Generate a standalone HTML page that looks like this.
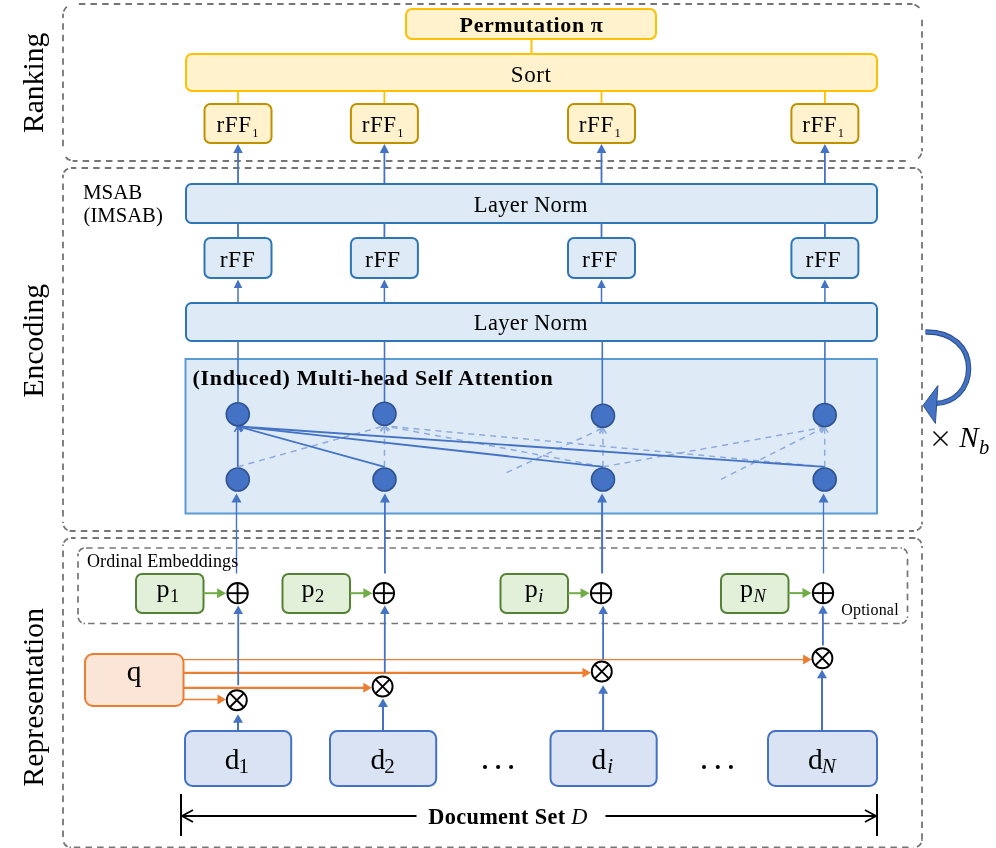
<!DOCTYPE html>
<html><head><meta charset="utf-8"><style>
html,body{margin:0;padding:0;background:#fff;}
svg{display:block;will-change:transform;}
.s{font-family:"Liberation Serif",serif;fill:#000;}
.sb{font-family:"Liberation Serif",serif;font-weight:bold;fill:#000;}
.it{font-family:"Liberation Serif",serif;font-style:italic;fill:#000;}
</style></head><body>
<svg width="996" height="848" viewBox="0 0 996 848">
<line x1="74" y1="4" x2="911" y2="4" fill="none" stroke="#757575" stroke-width="1.8" stroke-dasharray="6.5 5.166" stroke-dashoffset="6.86"/>
<line x1="74" y1="161" x2="911" y2="161" fill="none" stroke="#757575" stroke-width="1.8" stroke-dasharray="6.5 5.166" stroke-dashoffset="3.04"/>
<line x1="63" y1="15" x2="63" y2="150" fill="none" stroke="#757575" stroke-width="1.8" stroke-dasharray="6.5 5.166" stroke-dashoffset="3.46"/>
<line x1="922" y1="15" x2="922" y2="150" fill="none" stroke="#757575" stroke-width="1.8" stroke-dasharray="6.5 5.166" stroke-dashoffset="7.04"/>
<path d="M63,15 A11,11 0 0 1 74,4" fill="none" stroke="#757575" stroke-width="1.8" stroke-dasharray="1.5 2 6 20" stroke-dashoffset="0"/>
<path d="M911,4 A11,11 0 0 1 922,15" fill="none" stroke="#757575" stroke-width="1.8" stroke-dasharray="1.5 2 6 20" stroke-dashoffset="0"/>
<path d="M922,150 A11,11 0 0 1 911,161" fill="none" stroke="#757575" stroke-width="1.8" stroke-dasharray="1.5 2 6 20" stroke-dashoffset="0"/>
<path d="M74,161 A11,11 0 0 1 63,150" fill="none" stroke="#757575" stroke-width="1.8" stroke-dasharray="1.5 2 6 20" stroke-dashoffset="0"/>
<line x1="71" y1="168" x2="914" y2="168" fill="none" stroke="#757575" stroke-width="1.8" stroke-dasharray="6.5 5.166" stroke-dashoffset="1.18"/>
<line x1="71" y1="531" x2="914" y2="531" fill="none" stroke="#757575" stroke-width="1.8" stroke-dasharray="6.5 5.166" stroke-dashoffset="1.87"/>
<line x1="63" y1="176" x2="63" y2="523" fill="none" stroke="#757575" stroke-width="1.8" stroke-dasharray="6.5 5.166" stroke-dashoffset="4.23"/>
<line x1="922" y1="176" x2="922" y2="523" fill="none" stroke="#757575" stroke-width="1.8" stroke-dasharray="6.5 5.166" stroke-dashoffset="4.11"/>
<path d="M63,176 A8,8 0 0 1 71,168" fill="none" stroke="#757575" stroke-width="1.8" stroke-dasharray="1.5 2 6 20" stroke-dashoffset="0"/>
<path d="M914,168 A8,8 0 0 1 922,176" fill="none" stroke="#757575" stroke-width="1.8" stroke-dasharray="1.5 2 6 20" stroke-dashoffset="0"/>
<path d="M922,523 A8,8 0 0 1 914,531" fill="none" stroke="#757575" stroke-width="1.8" stroke-dasharray="1.5 2 6 20" stroke-dashoffset="0"/>
<path d="M71,531 A8,8 0 0 1 63,523" fill="none" stroke="#757575" stroke-width="1.8" stroke-dasharray="1.5 2 6 20" stroke-dashoffset="0"/>
<line x1="71" y1="538" x2="914" y2="538" fill="none" stroke="#757575" stroke-width="1.8" stroke-dasharray="6.5 5.166" stroke-dashoffset="1.87"/>
<line x1="71" y1="847.5" x2="914" y2="847.5" fill="none" stroke="#757575" stroke-width="1.8" stroke-dasharray="6.5 5.166" stroke-dashoffset="8.87"/>
<line x1="63" y1="546" x2="63" y2="839.5" fill="none" stroke="#757575" stroke-width="1.8" stroke-dasharray="6.5 5.166" stroke-dashoffset="7.12"/>
<line x1="922" y1="546" x2="922" y2="839.5" fill="none" stroke="#757575" stroke-width="1.8" stroke-dasharray="6.5 5.166" stroke-dashoffset="4.52"/>
<path d="M63,546 A8,8 0 0 1 71,538" fill="none" stroke="#757575" stroke-width="1.8" stroke-dasharray="1.5 2 6 20" stroke-dashoffset="0"/>
<path d="M914,538 A8,8 0 0 1 922,546" fill="none" stroke="#757575" stroke-width="1.8" stroke-dasharray="1.5 2 6 20" stroke-dashoffset="0"/>
<path d="M922,839.5 A8,8 0 0 1 914,847.5" fill="none" stroke="#757575" stroke-width="1.8" stroke-dasharray="1.5 2 6 20" stroke-dashoffset="0"/>
<path d="M71,847.5 A8,8 0 0 1 63,839.5" fill="none" stroke="#757575" stroke-width="1.8" stroke-dasharray="1.5 2 6 20" stroke-dashoffset="0"/>
<line x1="85" y1="548" x2="900.5" y2="548" fill="none" stroke="#757575" stroke-width="1.7" stroke-dasharray="6.5 5.166" stroke-dashoffset="10.60"/>
<line x1="85" y1="623.5" x2="900.5" y2="623.5" fill="none" stroke="#757575" stroke-width="1.7" stroke-dasharray="6.5 5.166" stroke-dashoffset="8.54"/>
<line x1="78" y1="555" x2="78" y2="616.5" fill="none" stroke="#757575" stroke-width="1.7" stroke-dasharray="6.5 5.166" stroke-dashoffset="5.30"/>
<line x1="907.5" y1="555" x2="907.5" y2="616.5" fill="none" stroke="#757575" stroke-width="1.7" stroke-dasharray="6.5 5.166" stroke-dashoffset="7.85"/>
<path d="M78,555 A7,7 0 0 1 85,548" fill="none" stroke="#757575" stroke-width="1.7" stroke-dasharray="1.5 2 6 20" stroke-dashoffset="0"/>
<path d="M900.5,548 A7,7 0 0 1 907.5,555" fill="none" stroke="#757575" stroke-width="1.7" stroke-dasharray="1.5 2 6 20" stroke-dashoffset="0"/>
<path d="M907.5,616.5 A7,7 0 0 1 900.5,623.5" fill="none" stroke="#757575" stroke-width="1.7" stroke-dasharray="1.5 2 6 20" stroke-dashoffset="0"/>
<path d="M85,623.5 A7,7 0 0 1 78,616.5" fill="none" stroke="#757575" stroke-width="1.7" stroke-dasharray="1.5 2 6 20" stroke-dashoffset="0"/>
<rect x="406" y="9" width="250" height="30" rx="6" fill="#FFF2CC" stroke="#FFC000" stroke-width="2"/>
<line x1="531.5" y1="39" x2="531.5" y2="54" stroke="#FFC000" stroke-width="2"/>
<rect x="186" y="54" width="691" height="37" rx="6" fill="#FFF2CC" stroke="#FFC000" stroke-width="2"/>
<line x1="238" y1="91" x2="238" y2="104" stroke="#FFC000" stroke-width="1.8"/>
<rect x="204.5" y="104" width="67" height="39" rx="6" fill="#FFF2CC" stroke="#BF9000" stroke-width="2"/>
<line x1="238" y1="184" x2="238" y2="152" stroke="#4472C4" stroke-width="1.8"/>
<polygon points="238,144 233.25,153 242.75,153" fill="#4472C4"/>
<line x1="384.4" y1="91" x2="384.4" y2="104" stroke="#FFC000" stroke-width="1.8"/>
<rect x="350.9" y="104" width="67" height="39" rx="6" fill="#FFF2CC" stroke="#BF9000" stroke-width="2"/>
<line x1="384.4" y1="184" x2="384.4" y2="152" stroke="#4472C4" stroke-width="1.8"/>
<polygon points="384.4,144 379.65,153 389.15,153" fill="#4472C4"/>
<line x1="601.5" y1="91" x2="601.5" y2="104" stroke="#FFC000" stroke-width="1.8"/>
<rect x="568.0" y="104" width="67" height="39" rx="6" fill="#FFF2CC" stroke="#BF9000" stroke-width="2"/>
<line x1="601.5" y1="184" x2="601.5" y2="152" stroke="#4472C4" stroke-width="1.8"/>
<polygon points="601.5,144 596.75,153 606.25,153" fill="#4472C4"/>
<line x1="824.9" y1="91" x2="824.9" y2="104" stroke="#FFC000" stroke-width="1.8"/>
<rect x="791.4" y="104" width="67" height="39" rx="6" fill="#FFF2CC" stroke="#BF9000" stroke-width="2"/>
<line x1="824.9" y1="184" x2="824.9" y2="152" stroke="#4472C4" stroke-width="1.8"/>
<polygon points="824.9,144 820.15,153 829.65,153" fill="#4472C4"/>
<rect x="186" y="184" width="691" height="39" rx="5.5" fill="#DEEBF7" stroke="#2E75B6" stroke-width="2"/>
<rect x="186" y="303" width="691" height="38" rx="5.5" fill="#DEEBF7" stroke="#2E75B6" stroke-width="2"/>
<line x1="238" y1="223" x2="238" y2="238" stroke="#4472C4" stroke-width="1.8"/>
<rect x="204.5" y="238" width="67" height="40" rx="6" fill="#DEEBF7" stroke="#2E75B6" stroke-width="2"/>
<line x1="238" y1="303" x2="238" y2="287" stroke="#4472C4" stroke-width="1.5"/>
<polygon points="238,279.5 233.75,288.0 242.25,288.0" fill="#4472C4"/>
<line x1="384.4" y1="223" x2="384.4" y2="238" stroke="#4472C4" stroke-width="1.8"/>
<rect x="350.9" y="238" width="67" height="40" rx="6" fill="#DEEBF7" stroke="#2E75B6" stroke-width="2"/>
<line x1="384.4" y1="303" x2="384.4" y2="287" stroke="#4472C4" stroke-width="1.5"/>
<polygon points="384.4,279.5 380.15,288.0 388.65,288.0" fill="#4472C4"/>
<line x1="601.5" y1="223" x2="601.5" y2="238" stroke="#4472C4" stroke-width="1.8"/>
<rect x="568.0" y="238" width="67" height="40" rx="6" fill="#DEEBF7" stroke="#2E75B6" stroke-width="2"/>
<line x1="601.5" y1="303" x2="601.5" y2="287" stroke="#4472C4" stroke-width="1.5"/>
<polygon points="601.5,279.5 597.25,288.0 605.75,288.0" fill="#4472C4"/>
<line x1="824.9" y1="223" x2="824.9" y2="238" stroke="#4472C4" stroke-width="1.8"/>
<rect x="791.4" y="238" width="67" height="40" rx="6" fill="#DEEBF7" stroke="#2E75B6" stroke-width="2"/>
<line x1="824.9" y1="303" x2="824.9" y2="287" stroke="#4472C4" stroke-width="1.5"/>
<polygon points="824.9,279.5 820.65,288.0 829.15,288.0" fill="#4472C4"/>
<rect x="185.5" y="359" width="691.5" height="154.5" fill="#DEEBF7" stroke="#5B9BD5" stroke-width="2"/>
<line x1="238" y1="341" x2="238" y2="404" stroke="#4472C4" stroke-width="1.6"/>
<line x1="384.5" y1="341" x2="384.5" y2="404" stroke="#4472C4" stroke-width="1.6"/>
<line x1="602.3" y1="341" x2="602.3" y2="404" stroke="#4472C4" stroke-width="1.6"/>
<line x1="824.9" y1="341" x2="824.9" y2="404" stroke="#4472C4" stroke-width="1.6"/>
<line x1="237.8" y1="466.8" x2="384.5" y2="425.9" stroke="#8FAADC" stroke-width="1.5" stroke-dasharray="6 5"/>
<line x1="384.5" y1="466.8" x2="384.5" y2="425.9" stroke="#8FAADC" stroke-width="1.5" stroke-dasharray="6 5"/>
<line x1="603" y1="466.8" x2="384.5" y2="425.9" stroke="#8FAADC" stroke-width="1.5" stroke-dasharray="6 5"/>
<line x1="824.7" y1="466.8" x2="384.5" y2="425.9" stroke="#8FAADC" stroke-width="1.5" stroke-dasharray="6 5"/>
<line x1="506.6" y1="472.6" x2="603" y2="428.0" stroke="#8FAADC" stroke-width="1.5" stroke-dasharray="6 5"/>
<line x1="603" y1="466.8" x2="603" y2="428.0" stroke="#8FAADC" stroke-width="1.5" stroke-dasharray="6 5"/>
<line x1="721" y1="479.3" x2="824.7" y2="427.2" stroke="#8FAADC" stroke-width="1.5" stroke-dasharray="6 5"/>
<line x1="603" y1="466.8" x2="824.7" y2="427.2" stroke="#8FAADC" stroke-width="1.5" stroke-dasharray="6 5"/>
<line x1="824.7" y1="466.8" x2="824.7" y2="427.2" stroke="#8FAADC" stroke-width="1.5" stroke-dasharray="6 5"/>
<polyline points="378.27,424.06 384.5,425.9 380.12,430.70" fill="none" stroke="#8FAADC" stroke-width="1.5" stroke-linejoin="miter"/>
<polyline points="381.06,431.41 384.5,425.9 387.94,431.41" fill="none" stroke="#8FAADC" stroke-width="1.5" stroke-linejoin="miter"/>
<polyline points="389.28,430.30 384.5,425.9 390.55,423.53" fill="none" stroke="#8FAADC" stroke-width="1.5" stroke-linejoin="miter"/>
<polyline points="389.67,429.84 384.5,425.9 390.31,422.98" fill="none" stroke="#8FAADC" stroke-width="1.5" stroke-linejoin="miter"/>
<polyline points="596.55,427.19 603,428.0 599.44,433.44" fill="none" stroke="#8FAADC" stroke-width="1.5" stroke-linejoin="miter"/>
<polyline points="599.56,433.51 603,428.0 606.44,433.51" fill="none" stroke="#8FAADC" stroke-width="1.5" stroke-linejoin="miter"/>
<polyline points="818.23,426.60 824.7,427.2 821.32,432.75" fill="none" stroke="#8FAADC" stroke-width="1.5" stroke-linejoin="miter"/>
<polyline points="818.67,424.78 824.7,427.2 819.88,431.56" fill="none" stroke="#8FAADC" stroke-width="1.5" stroke-linejoin="miter"/>
<polyline points="821.26,432.71 824.7,427.2 828.14,432.71" fill="none" stroke="#8FAADC" stroke-width="1.5" stroke-linejoin="miter"/>
<line x1="237.8" y1="466.8" x2="237.8" y2="426.4" stroke="#4472C4" stroke-width="1.8"/>
<line x1="384.5" y1="466.8" x2="237.8" y2="426.4" stroke="#4472C4" stroke-width="1.8"/>
<line x1="603" y1="466.8" x2="237.8" y2="426.4" stroke="#4472C4" stroke-width="1.8"/>
<line x1="824.7" y1="466.8" x2="237.8" y2="426.4" stroke="#4472C4" stroke-width="1.8"/>
<polyline points="234.36,431.91 237.8,426.4 241.24,431.91" fill="none" stroke="#4472C4" stroke-width="1.6" stroke-linejoin="miter"/>
<polyline points="242.20,431.18 237.8,426.4 244.03,424.54" fill="none" stroke="#4472C4" stroke-width="1.6" stroke-linejoin="miter"/>
<polyline points="242.90,430.43 237.8,426.4 243.66,423.58" fill="none" stroke="#4472C4" stroke-width="1.6" stroke-linejoin="miter"/>
<polyline points="243.06,430.21 237.8,426.4 243.54,423.34" fill="none" stroke="#4472C4" stroke-width="1.6" stroke-linejoin="miter"/>
<circle cx="237.8" cy="414.2" r="11.5" fill="#4472C4" stroke="#2F528F" stroke-width="1.6"/>
<circle cx="237.8" cy="479.5" r="11.5" fill="#4472C4" stroke="#2F528F" stroke-width="1.6"/>
<line x1="236.5" y1="573.5" x2="236.5" y2="500" stroke="#4472C4" stroke-width="1.4"/>
<polygon points="236.5,493.5 231.5,502.5 241.5,502.5" fill="#4472C4"/>
<circle cx="384.5" cy="413.7" r="11.5" fill="#4472C4" stroke="#2F528F" stroke-width="1.6"/>
<circle cx="384.5" cy="479.5" r="11.5" fill="#4472C4" stroke="#2F528F" stroke-width="1.6"/>
<line x1="384.9" y1="573.5" x2="384.9" y2="500" stroke="#4472C4" stroke-width="1.8"/>
<polygon points="384.9,493.5 379.9,502.5 389.9,502.5" fill="#4472C4"/>
<circle cx="603" cy="415.8" r="11.5" fill="#4472C4" stroke="#2F528F" stroke-width="1.6"/>
<circle cx="603" cy="479.5" r="11.5" fill="#4472C4" stroke="#2F528F" stroke-width="1.6"/>
<line x1="602.1" y1="573.5" x2="602.1" y2="500" stroke="#4472C4" stroke-width="2.0"/>
<polygon points="602.1,493.5 597.1,502.5 607.1,502.5" fill="#4472C4"/>
<circle cx="824.7" cy="415" r="11.5" fill="#4472C4" stroke="#2F528F" stroke-width="1.6"/>
<circle cx="824.7" cy="479.5" r="11.5" fill="#4472C4" stroke="#2F528F" stroke-width="1.6"/>
<line x1="823.5" y1="573.5" x2="823.5" y2="500" stroke="#4472C4" stroke-width="1.3"/>
<polygon points="823.5,493.5 818.5,502.5 828.5,502.5" fill="#4472C4"/>
<rect x="136" y="574" width="67.5" height="39" rx="6" fill="#E2F0D9" stroke="#548235" stroke-width="2"/>
<line x1="203.5" y1="593.2" x2="219.6" y2="593.2" stroke="#70AD47" stroke-width="2"/>
<polygon points="226.1,593.2 217.1,588.2 217.1,598.2" fill="#70AD47"/>
<circle cx="237.6" cy="593.2" r="10.2" fill="#fff" stroke="#000" stroke-width="1.9"/>
<line x1="227.4" y1="593.2" x2="247.79999999999998" y2="593.2" stroke="#000" stroke-width="1.9"/>
<line x1="237.6" y1="583.0" x2="237.6" y2="603.4000000000001" stroke="#000" stroke-width="1.9"/>
<rect x="282.5" y="574" width="67.5" height="39" rx="6" fill="#E2F0D9" stroke="#548235" stroke-width="2"/>
<line x1="350.0" y1="593.2" x2="365.9" y2="593.2" stroke="#70AD47" stroke-width="2"/>
<polygon points="372.4,593.2 363.4,588.2 363.4,598.2" fill="#70AD47"/>
<circle cx="383.9" cy="593.2" r="10.2" fill="#fff" stroke="#000" stroke-width="1.9"/>
<line x1="373.7" y1="593.2" x2="394.09999999999997" y2="593.2" stroke="#000" stroke-width="1.9"/>
<line x1="383.9" y1="583.0" x2="383.9" y2="603.4000000000001" stroke="#000" stroke-width="1.9"/>
<rect x="500.5" y="574" width="67.5" height="39" rx="6" fill="#E2F0D9" stroke="#548235" stroke-width="2"/>
<line x1="568.0" y1="593.2" x2="583.1" y2="593.2" stroke="#70AD47" stroke-width="2"/>
<polygon points="589.6,593.2 580.6,588.2 580.6,598.2" fill="#70AD47"/>
<circle cx="601.1" cy="593.2" r="10.2" fill="#fff" stroke="#000" stroke-width="1.9"/>
<line x1="590.9" y1="593.2" x2="611.3000000000001" y2="593.2" stroke="#000" stroke-width="1.9"/>
<line x1="601.1" y1="583.0" x2="601.1" y2="603.4000000000001" stroke="#000" stroke-width="1.9"/>
<rect x="721" y="574" width="67.5" height="39" rx="6" fill="#E2F0D9" stroke="#548235" stroke-width="2"/>
<line x1="788.5" y1="593.1" x2="805" y2="593.1" stroke="#70AD47" stroke-width="2"/>
<polygon points="811.5,593.1 802.5,588.1 802.5,598.1" fill="#70AD47"/>
<circle cx="823" cy="593.1" r="10.2" fill="#fff" stroke="#000" stroke-width="1.9"/>
<line x1="812.8" y1="593.1" x2="833.2" y2="593.1" stroke="#000" stroke-width="1.9"/>
<line x1="823" y1="582.9" x2="823" y2="603.3000000000001" stroke="#000" stroke-width="1.9"/>
<rect x="85" y="654" width="98.5" height="52" rx="8" fill="#FBE5D6" stroke="#ED7D31" stroke-width="2"/>
<line x1="183.5" y1="699.5" x2="218.8" y2="699.5" stroke="#ED7D31" stroke-width="1.4"/>
<polygon points="226.0,699.5 217.5,694.5 217.5,704.5" fill="#ED7D31"/>
<line x1="183.5" y1="687.8" x2="364.6" y2="687.8" stroke="#ED7D31" stroke-width="2.2"/>
<polygon points="371.8,687.8 363.3,682.8 363.3,692.8" fill="#ED7D31"/>
<line x1="183.5" y1="672.8" x2="583.8" y2="672.8" stroke="#ED7D31" stroke-width="2.2"/>
<polygon points="591.0,672.8 582.5,667.8 582.5,677.8" fill="#ED7D31"/>
<line x1="183.5" y1="659.6" x2="804.4" y2="659.6" stroke="#ED7D31" stroke-width="1.4"/>
<polygon points="811.6,659.6 803.1,654.6 803.1,664.6" fill="#ED7D31"/>
<line x1="238.2" y1="685.3" x2="238.2" y2="612" stroke="#4472C4" stroke-width="1.8"/>
<polygon points="238.2,605.4000000000001 233.45,613.9000000000001 242.95,613.9000000000001" fill="#4472C4"/>
<circle cx="236.8" cy="700.2" r="10" fill="#fff" stroke="#000" stroke-width="1.9"/>
<line x1="229.729" y1="693.129" x2="243.871" y2="707.2710000000001" stroke="#000" stroke-width="1.9"/>
<line x1="229.729" y1="707.2710000000001" x2="243.871" y2="693.129" stroke="#000" stroke-width="1.9"/>
<line x1="238" y1="731" x2="238" y2="720.3" stroke="#4472C4" stroke-width="2"/>
<polygon points="238,714.3 233.0,722.8 243.0,722.8" fill="#4472C4"/>
<line x1="384.8" y1="672.7" x2="384.8" y2="612" stroke="#4472C4" stroke-width="1.8"/>
<polygon points="384.8,605.4000000000001 380.05,613.9000000000001 389.55,613.9000000000001" fill="#4472C4"/>
<circle cx="382.6" cy="686.5" r="10" fill="#fff" stroke="#000" stroke-width="1.9"/>
<line x1="375.529" y1="679.429" x2="389.67100000000005" y2="693.571" stroke="#000" stroke-width="1.9"/>
<line x1="375.529" y1="693.571" x2="389.67100000000005" y2="679.429" stroke="#000" stroke-width="1.9"/>
<line x1="383" y1="731" x2="383" y2="704.6" stroke="#4472C4" stroke-width="2"/>
<polygon points="383,698.6 378.0,707.1 388.0,707.1" fill="#4472C4"/>
<line x1="603.1" y1="659.5" x2="603.1" y2="612" stroke="#4472C4" stroke-width="1.8"/>
<polygon points="603.1,605.4000000000001 598.35,613.9000000000001 607.85,613.9000000000001" fill="#4472C4"/>
<circle cx="601.8" cy="671.5" r="10" fill="#fff" stroke="#000" stroke-width="1.9"/>
<line x1="594.7289999999999" y1="664.429" x2="608.871" y2="678.571" stroke="#000" stroke-width="1.9"/>
<line x1="594.7289999999999" y1="678.571" x2="608.871" y2="664.429" stroke="#000" stroke-width="1.9"/>
<line x1="603.1" y1="731" x2="603.1" y2="691.3" stroke="#4472C4" stroke-width="2"/>
<polygon points="603.1,685.3 598.1,693.8 608.1,693.8" fill="#4472C4"/>
<line x1="822.9" y1="645.6" x2="822.9" y2="612" stroke="#4472C4" stroke-width="1.8"/>
<polygon points="822.9,605.3000000000001 818.15,613.8000000000001 827.65,613.8000000000001" fill="#4472C4"/>
<circle cx="822.4" cy="658.3" r="10" fill="#fff" stroke="#000" stroke-width="1.9"/>
<line x1="815.329" y1="651.2289999999999" x2="829.471" y2="665.371" stroke="#000" stroke-width="1.9"/>
<line x1="815.329" y1="665.371" x2="829.471" y2="651.2289999999999" stroke="#000" stroke-width="1.9"/>
<line x1="822" y1="731" x2="822" y2="675.8" stroke="#4472C4" stroke-width="2"/>
<polygon points="822,669.8 817.0,678.3 827.0,678.3" fill="#4472C4"/>
<rect x="185" y="731" width="106.2" height="55" rx="7.5" fill="#DAE3F3" stroke="#4472C4" stroke-width="2"/>
<rect x="330" y="731" width="106.2" height="55" rx="7.5" fill="#DAE3F3" stroke="#4472C4" stroke-width="2"/>
<rect x="550.5" y="731" width="106.2" height="55" rx="7.5" fill="#DAE3F3" stroke="#4472C4" stroke-width="2"/>
<rect x="768" y="731" width="109" height="55" rx="7.5" fill="#DAE3F3" stroke="#4472C4" stroke-width="2"/>
<line x1="181" y1="794" x2="181" y2="836" stroke="#000" stroke-width="2"/>
<line x1="877" y1="794" x2="877" y2="836" stroke="#000" stroke-width="2"/>
<line x1="182" y1="816" x2="416.5" y2="816" stroke="#000" stroke-width="2"/>
<line x1="605.5" y1="816" x2="876" y2="816" stroke="#000" stroke-width="2"/>
<polyline points="193,810 182,816 193,822" fill="none" stroke="#000" stroke-width="1.8"/>
<polyline points="865,810 876,816 865,822" fill="none" stroke="#000" stroke-width="1.8"/>
<path d="M925.5,332 C953,331.5 968.6,348 968.6,368.5 C968.6,389 954,403.3 935,403.5" fill="none" stroke="#2F528F" stroke-width="5.4"/>
<path d="M925.5,332 C953,331.5 968.6,348 968.6,368.5 C968.6,389 954,403.3 935,403.5" fill="none" stroke="#4472C4" stroke-width="3.2"/>
<polygon points="923,405.4 937.9,385.6 935.4,423.4" fill="#4472C4" stroke="#2F528F" stroke-width="1"/>
<line x1="933.5" y1="431.5" x2="947.5" y2="445.5" stroke="#000" stroke-width="1.5"/>
<line x1="933.5" y1="445.5" x2="947.5" y2="431.5" stroke="#000" stroke-width="1.5"/>
<text x="459.6" y="31.8" class="sb" font-size="22" letter-spacing="0.6" >Permutation π</text>
<text x="510.8" y="81.7" class="s" font-size="23" letter-spacing="0.6" >Sort</text>
<text x="216.6" y="132.3" class="s" font-size="23" letter-spacing="0.6" >rFF<tspan font-size="12.5" dy="4.3" dx="0.6">1</tspan></text>
<text x="361.7" y="132.3" class="s" font-size="23" letter-spacing="0.6" >rFF<tspan font-size="12.5" dy="4.3" dx="0.6">1</tspan></text>
<text x="578.8" y="132.3" class="s" font-size="23" letter-spacing="0.6" >rFF<tspan font-size="12.5" dy="4.3" dx="0.6">1</tspan></text>
<text x="802.1999999999999" y="132.3" class="s" font-size="23" letter-spacing="0.6" >rFF<tspan font-size="12.5" dy="4.3" dx="0.6">1</tspan></text>
<text x="83" y="199.1" class="s" font-size="21" letter-spacing="-0.1" >MSAB</text>
<text x="83.5" y="222" class="s" font-size="20.7" >(IMSAB)</text>
<text x="473.8" y="211.6" class="s" font-size="22.5" letter-spacing="0.35" >Layer Norm</text>
<text x="473.8" y="329.8" class="s" font-size="22.5" letter-spacing="0.35" >Layer Norm</text>
<text x="219.7" y="267.1" class="s" font-size="23.5" letter-spacing="0.6" >rFF</text>
<text x="365.0" y="267.1" class="s" font-size="23.5" letter-spacing="0.6" >rFF</text>
<text x="582.1" y="267.1" class="s" font-size="23.5" letter-spacing="0.6" >rFF</text>
<text x="805.5" y="267.1" class="s" font-size="23.5" letter-spacing="0.6" >rFF</text>
<text x="192.6" y="384.8" class="sb" font-size="22" letter-spacing="0.69" >(Induced) Multi-head Self Attention</text>
<text x="87" y="566.9" class="s" font-size="18" letter-spacing="0.1" >Ordinal Embeddings</text>
<text x="841.2" y="614.9" class="s" font-size="16" letter-spacing="0.2" >Optional</text>
<text x="156.4" y="596.5" class="s" font-size="26" >p<tspan font-size="18.5" dy="5" dx="0.5">1</tspan></text>
<text x="301.6" y="596.5" class="s" font-size="26" >p<tspan font-size="18.5" dy="5" dx="0.5">2</tspan></text>
<text x="524.7" y="596.5" class="s" font-size="26" >p<tspan class="it" font-size="18.5" dy="5" dx="0.5">i</tspan></text>
<text x="740.0" y="596.5" class="s" font-size="26" >p<tspan class="it" font-size="18.5" dy="5" dx="0.5">N</tspan></text>
<text x="126.7" y="680.6" class="s" font-size="29.5" >q</text>
<text x="224.8" y="768.8" class="s" font-size="29.5" >d<tspan font-size="21" dy="4.5" dx="-1">1</tspan></text>
<text x="370.5" y="768.8" class="s" font-size="29.5" >d<tspan font-size="21" dy="4.5" dx="-1">2</tspan></text>
<text x="591.5" y="768.8" class="s" font-size="29.5" >d<tspan class="it" font-size="21" dy="4.5" dx="1">i</tspan></text>
<text x="808" y="768.8" class="s" font-size="29.5" >d<tspan class="it" font-size="21" dy="4.5" dx="-1">N</tspan></text>
<circle cx="485" cy="767" r="2.05" fill="#000"/>
<circle cx="498.1" cy="767" r="2.05" fill="#000"/>
<circle cx="511.1" cy="767" r="2.05" fill="#000"/>
<circle cx="704" cy="767" r="2.05" fill="#000"/>
<circle cx="717.8" cy="767" r="2.05" fill="#000"/>
<circle cx="730.9" cy="767" r="2.05" fill="#000"/>
<text x="428.3" y="823.7" class="sb" font-size="22.3" letter-spacing="0.33" >Document Set <tspan class="it" font-weight="normal">D</tspan></text>
<text transform="translate(43.3,133) rotate(-90)" class="s" font-size="29.6">Ranking</text>
<text transform="translate(43.3,397.6) rotate(-90)" class="s" font-size="29.7">Encoding</text>
<text transform="translate(43.4,786.6) rotate(-90)" class="s" font-size="29.5" letter-spacing="0.12">Representation</text>
<text x="959.2" y="447.1" class="it" font-size="29" >N</text>
<text x="979" y="454.1" class="it" font-size="20.5" >b</text>
</svg>
</body></html>
